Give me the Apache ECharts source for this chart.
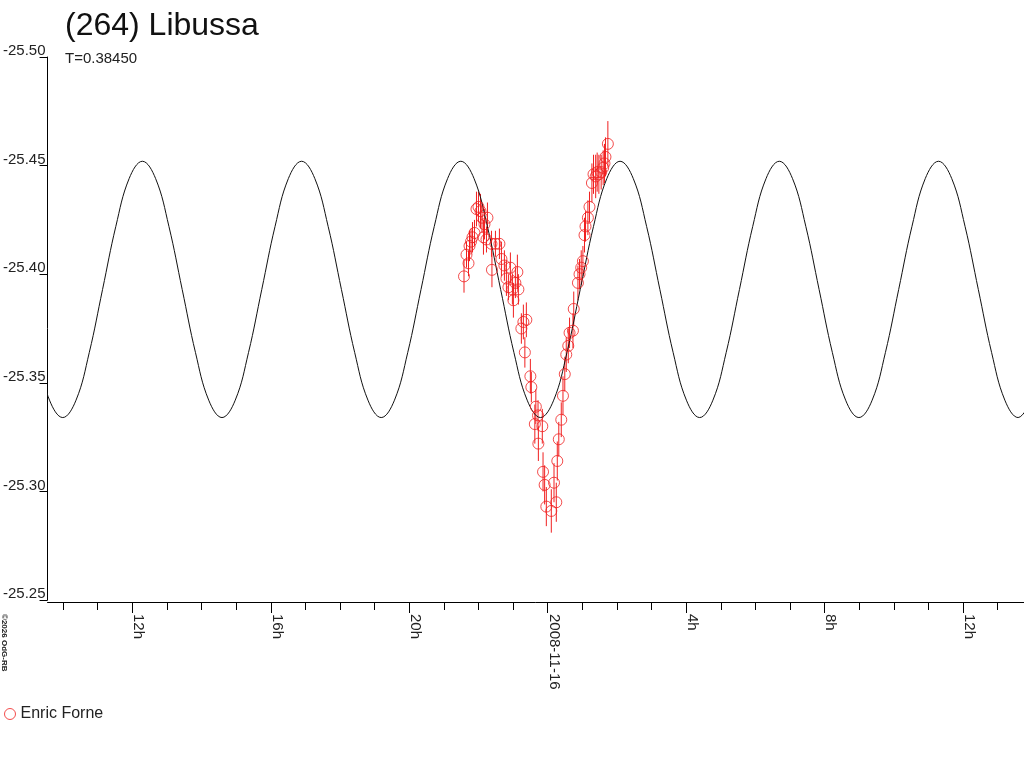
<!DOCTYPE html>
<html>
<head>
<meta charset="utf-8">
<title>(264) Libussa</title>
<script src="https://cdn.jsdelivr.net/npm/echarts@6/dist/echarts.min.js"></script>
<style>
  html,body{margin:0;padding:0;background:#fff;}
  #lightcurve{width:1024px;height:768px;}
</style>
</head>
<body>
<div id="lightcurve"></div>
<script>
    // hours counted from 2008-11-15 00:00
    var majorHours = [12, 16, 20, 24, 28, 32, 36];
    var minorHours = [10, 11, 13, 14, 15, 17, 18, 19, 21, 22, 23, 25, 26, 27, 29, 30, 31, 33, 34, 35, 37];
    var magTicks = [-25.50, -25.45, -25.40, -25.35, -25.30, -25.25];

    // fitted curve (T=0.38450)
    var curveHours = [9.223, 9.607, 9.990, 10.373, 10.757, 11.140, 11.523, 11.907, 12.290, 12.673,
        13.057, 13.440, 13.823, 14.207, 14.590, 14.973, 15.357, 15.740, 16.123, 16.507,
        16.890, 17.273, 17.657, 18.040, 18.423, 18.807, 19.190, 19.573, 19.957, 20.340,
        20.723, 21.107, 21.490, 21.873, 22.257, 22.640, 23.023, 23.407, 23.790, 24.173,
        24.557, 24.940, 25.323, 25.707, 26.090, 26.473, 26.857, 27.240, 27.623, 28.007,
        28.390, 28.773, 29.157, 29.540, 29.923, 30.307, 30.690, 31.073, 31.457, 31.840,
        32.223, 32.607, 32.990, 33.373, 33.757, 34.140, 34.523, 34.907, 35.290, 35.673,
        36.057, 36.440, 36.823, 37.207, 37.590, 37.973];
    var curveMag = [-25.364, -25.342,
        -25.334, -25.342, -25.364, -25.393, -25.422, -25.444, -25.452, -25.444, -25.422, -25.393, -25.364, -25.342,
        -25.334, -25.342, -25.364, -25.393, -25.422, -25.444, -25.452, -25.444, -25.422, -25.393, -25.364, -25.342,
        -25.334, -25.342, -25.364, -25.393, -25.422, -25.444, -25.452, -25.444, -25.422, -25.393, -25.364, -25.342,
        -25.334, -25.342, -25.364, -25.393, -25.422, -25.444, -25.452, -25.444, -25.422, -25.393, -25.364, -25.342,
        -25.334, -25.342, -25.364, -25.393, -25.422, -25.444, -25.452, -25.444, -25.422, -25.393, -25.364, -25.342,
        -25.334, -25.342, -25.364, -25.393, -25.422, -25.444, -25.452, -25.444, -25.422, -25.393, -25.364, -25.342,
        -25.334, -25.342];

    // Enric Forne observations
    var obsHours = [21.582, 21.654, 21.712, 21.741, 21.784, 21.827, 21.885, 21.942, 22.000, 22.058,
        22.101, 22.144, 22.173, 22.231, 22.259, 22.375, 22.389, 22.490, 22.605, 22.663,
        22.749, 22.807, 22.865, 22.922, 22.980, 23.009, 23.066, 23.124, 23.153, 23.239,
        23.297, 23.383, 23.340, 23.499, 23.527, 23.628, 23.657, 23.720, 23.730, 23.844,
        23.865, 23.911, 23.960, 24.104, 24.182, 24.248, 24.277, 24.320, 24.392, 24.441,
        24.493, 24.536, 24.594, 24.631, 24.729, 24.752, 24.873, 24.919, 24.968, 25.017,
        25.063, 25.092, 25.161, 25.207, 25.277, 25.323, 25.386, 25.429, 25.478, 25.545,
        25.602, 25.640, 25.669, 25.738];
    var obsMag = [-25.399, -25.409, -25.405, -25.413, -25.415, -25.417, -25.419, -25.430, -25.431, -25.429,
        -25.426, -25.417, -25.423, -25.416, -25.426, -25.414, -25.402, -25.414, -25.414, -25.407,
        -25.404, -25.398, -25.394, -25.403, -25.393, -25.388, -25.396, -25.401, -25.393, -25.375,
        -25.378, -25.379, -25.364, -25.353, -25.348, -25.331, -25.339, -25.335, -25.322, -25.330,
        -25.309, -25.303, -25.293, -25.291, -25.304, -25.295, -25.314, -25.324, -25.333, -25.344,
        -25.354, -25.363, -25.367, -25.373, -25.374, -25.384, -25.396, -25.400, -25.403, -25.406,
        -25.418, -25.422, -25.426, -25.431, -25.442, -25.446, -25.445, -25.447, -25.446, -25.447,
        -25.449, -25.451, -25.454, -25.460];
    var obsErr = [0.0075, 0.006, 0.006, 0.007, 0.006, 0.007, 0.006, 0.008, 0.007, 0.008,
        0.007, 0.008, 0.007, 0.006, 0.007, 0.006, 0.008, 0.006, 0.007, 0.008,
        0.007, 0.008, 0.006, 0.007, 0.007, 0.008, 0.007, 0.008, 0.007, 0.007,
        0.008, 0.008, 0.007, 0.008, 0.007, 0.009, 0.008, 0.007, 0.008, 0.008,
        0.009, 0.009, 0.009, 0.010, 0.009, 0.009, 0.009, 0.008, 0.008, 0.009,
        0.008, 0.008, 0.008, 0.007, 0.008, 0.008, 0.008, 0.007, 0.008, 0.007,
        0.008, 0.007, 0.008, 0.007, 0.009, 0.009, 0.010, 0.009, 0.009, 0.008,
        0.008, 0.009, 0.009, 0.0105];

    var FONT = "'Liberation Sans', Arial, sans-serif";
    var RED = '#f02020';

    function zip(xs, ys){
        var out = [];
        for(var i=0;i<xs.length;i++){
            out.push([xs[i], ys[i]]);
        }
        return out;
    }
    function hourLabel(h){
        if(h % 24 === 0){
            return '2008-11-' + (15 + h / 24);
        }
        return (h % 24) + 'h';
    }

    var errData = [];
    for(var i=0;i<obsHours.length;i++){
        errData.push([obsHours[i], obsMag[i] - obsErr[i], obsMag[i] + obsErr[i]]);
    }

    var dom = document.getElementById("lightcurve");
    var myChart = echarts.init(dom, null, {renderer: 'canvas'});
    var option = {
        animation: false,
        backgroundColor: '#fff',
        textStyle: {fontFamily: FONT},
        grid: {left: 45, right: 0, top: 57, bottom: 168},
        graphic: [
            {type: 'text', left: 65, top: 10, style: {text: '(264) Libussa', font: '32px ' + FONT, fill: '#111'}},
            {type: 'text', left: 65, top: 51, style: {text: 'T=0.38450', font: '15px ' + FONT, fill: '#222'}},
            {type: 'text', x: 0, y: 614, rotation: -Math.PI / 2,
             style: {text: '\u00a92026 OdG-RB', font: 'bold 8px ' + FONT, fill: '#222', align: 'left', verticalAlign: 'bottom'}}
        ],
        legend: {
            left: 4, top: 706, padding: 0,
            itemWidth: 11, itemHeight: 11, itemGap: 5,
            textStyle: {fontSize: 16, color: '#222', fontFamily: FONT},
            data: [{name: 'Enric Forne', icon: 'circle', itemStyle: {color: 'rgba(0,0,0,0)', borderColor: RED, borderWidth: 1}}]
        },
        xAxis: [{
            type: 'value',
            min: 9.55, max: 37.76,
            offset: 2,
            position: 'bottom',
            axisLine: {lineStyle: {color: '#000', width: 1}},
            axisTick: {customValues: majorHours, length: 11, lineStyle: {color: '#000'}},
            axisLabel: {
                customValues: majorHours,
                rotate: -90,
                margin: 12,
                fontSize: 15,
                color: '#222',
                fontFamily: FONT,
                verticalAlign: 'bottom',
                lineHeight: 12,
                formatter: hourLabel
            },
            splitLine: {show: false}
        }, {
            type: 'value',
            min: 9.55, max: 37.76,
            offset: 2,
            position: 'bottom',
            axisLine: {show: false},
            axisTick: {customValues: minorHours, length: 8, lineStyle: {color: '#000'}},
            axisLabel: {show: false},
            splitLine: {show: false}
        }],
        yAxis: {
            type: 'value',
            inverse: true,
            min: -25.50, max: -25.25,
            interval: 0.05,
            axisLine: {show: true, lineStyle: {color: '#000', width: 1}},
            axisTick: {show: true, length: 8, lineStyle: {color: '#000'}},
            axisLabel: {
                margin: 2,
                fontSize: 15,
                color: '#222',
                fontFamily: FONT,
                verticalAlign: 'bottom',
                lineHeight: 12,
                formatter: function(v){ return v.toFixed(2); }
            },
            splitLine: {show: false}
        },
        series: [{
            name: 'curve',
            type: 'line',
            data: zip(curveHours, curveMag),
            smooth: 0.4,
            showSymbol: false,
            lineStyle: {color: '#111', width: 1},
            silent: true
        }, {
            name: 'errors',
            type: 'custom',
            data: errData,
            silent: true,
            renderItem: function(params, api){
                var top = api.coord([api.value(0), api.value(1)]);
                var bottom = api.coord([api.value(0), api.value(2)]);
                return {
                    type: 'line',
                    shape: {x1: top[0], y1: top[1], x2: bottom[0], y2: bottom[1]},
                    style: {stroke: RED, lineWidth: 1}
                };
            },
            z: 3
        }, {
            name: 'Enric Forne',
            type: 'scatter',
            data: zip(obsHours, obsMag),
            symbol: 'circle',
            symbolSize: 11,
            itemStyle: {color: 'rgba(0,0,0,0)', borderColor: RED, borderWidth: 1},
            z: 4
        }]
    };
    myChart.setOption(option, true);
</script>
</body>
</html>
